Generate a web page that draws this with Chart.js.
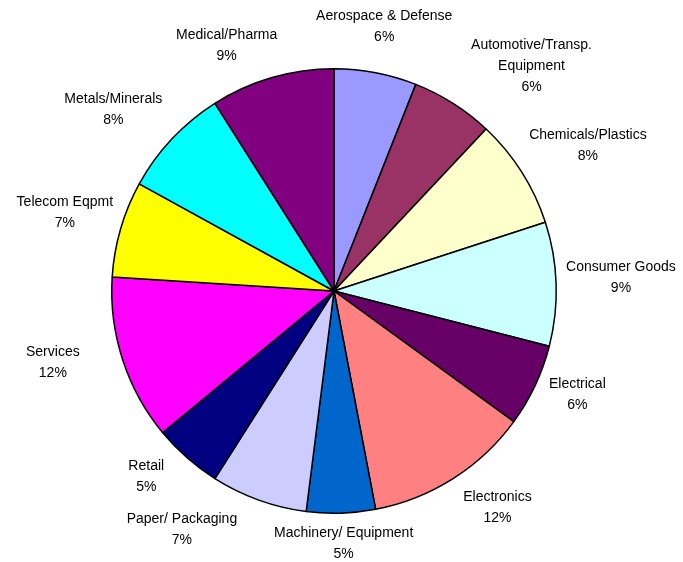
<!DOCTYPE html>
<html>
<head>
<meta charset="utf-8">
<script src="https://cdn.jsdelivr.net/npm/chart.js@4.4.1/dist/chart.umd.min.js"></script>
<style>
  html, body { margin: 0; padding: 0; background: #fff; }
  canvas { display: block; }
</style>
</head>
<body>
<canvas id="pieChart" width="683" height="562"></canvas>
<script>
// categories, clockwise from 12 o'clock
const categories = [
  "Aerospace & Defense",
  "Automotive/Transp.\nEquipment",
  "Chemicals/Plastics",
  "Consumer Goods",
  "Electrical",
  "Electronics",
  "Machinery/ Equipment",
  "Paper/ Packaging",
  "Retail",
  "Services",
  "Telecom Eqpmt",
  "Metals/Minerals",
  "Medical/Pharma"
]
const shares = [6, 6, 8, 9, 6, 12, 5, 7, 5, 12, 7, 8, 9]
const sliceColors = ["#9999FF", "#993366", "#FFFFCC", "#CCFFFF", "#660066", "#FF8080", "#0066CC",
  "#CCCCFF", "#000080", "#FF00FF", "#FFFF00", "#00FFFF", "#800080"]

// small hand nudges so labels sit where excel put them (dx, dy)
const labelNudge = [[-7, -11], [38, 2], [4, -7], [-5, -5], [3, -6], [18, -1], [0, -5],
  [-53, -4], [-19, -8], [-30, -8], [5, -6], [-12, -5], [-27, 3]]

const labelFont = '14px "Liberation Sans", Arial, sans-serif'
const lineH = 21
const gap = 15

const outsideLabels = {
  id: 'outsideLabels',
  afterDatasetsDraw(chart) {
    const ctx = chart.ctx
    const meta = chart.getDatasetMeta(0)
    const total = shares.reduce((a, b) => a + b, 0)
    ctx.save()
    ctx.font = labelFont
    ctx.fillStyle = '#000'
    ctx.textAlign = 'center'
    ctx.textBaseline = 'middle'
    meta.data.forEach((arc, i) => {
      const mid = (arc.startAngle + arc.endAngle) / 2
      const dx = Math.cos(mid), dy = Math.sin(mid)
      const lines = categories[i].split('\n')
      lines.push(Math.round(shares[i] / total * 100) + '%')
      const w = Math.max(...lines.map(l => ctx.measureText(l).width))
      const h = lines.length * lineH
      const ax = arc.x + dx * (arc.outerRadius + gap)
      const ay = arc.y + dy * (arc.outerRadius + gap)
      const cx = ax + dx * w / 2 + labelNudge[i][0]
      const cy = ay + dy * h / 2 + labelNudge[i][1]
      lines.forEach((l, k) => {
        ctx.fillText(l, cx, cy - h / 2 + lineH / 2 + k * lineH)
      })
    })
    ctx.restore()
  }
}

const ctx = document.getElementById('pieChart').getContext('2d')
new Chart(ctx, {
  type: 'pie',
  data: {
    labels: categories,
    datasets: [{
      data: shares,
      backgroundColor: sliceColors,
      borderColor: '#000',
      borderWidth: 1.5
    }]
  },
  options: {
    responsive: false,
    animation: false,
    layout: { padding: { left: 111, right: 126, top: 68, bottom: 48 } },
    plugins: {
      legend: { display: false },
      tooltip: { enabled: false }
    }
  },
  plugins: [outsideLabels]
})
</script>
</body>
</html>
